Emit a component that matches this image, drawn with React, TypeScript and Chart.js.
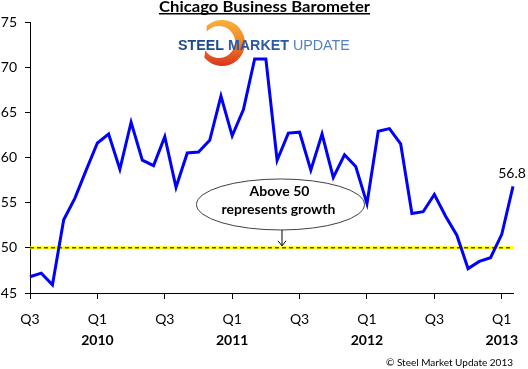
import { useEffect, useRef } from 'react';
import { Chart, registerables } from 'chart.js';
Chart.register(...registerables);

const months = [
  'Jul 2009', 'Aug 2009', 'Sep 2009', 'Oct 2009', 'Nov 2009', 'Dec 2009',
  'Jan 2010', 'Feb 2010', 'Mar 2010', 'Apr 2010', 'May 2010', 'Jun 2010',
  'Jul 2010', 'Aug 2010', 'Sep 2010', 'Oct 2010', 'Nov 2010', 'Dec 2010',
  'Jan 2011', 'Feb 2011', 'Mar 2011', 'Apr 2011', 'May 2011', 'Jun 2011',
  'Jul 2011', 'Aug 2011', 'Sep 2011', 'Oct 2011', 'Nov 2011', 'Dec 2011',
  'Jan 2012', 'Feb 2012', 'Mar 2012', 'Apr 2012', 'May 2012', 'Jun 2012',
  'Jul 2012', 'Aug 2012', 'Sep 2012', 'Oct 2012', 'Nov 2012', 'Dec 2012',
  'Jan 2013', 'Feb 2013',
];
const values = [
  46.8, 47.2, 45.9, 53.1, 55.5, 58.6,
  61.6, 62.6, 58.7, 63.9, 59.7, 59.1, 62.3, 56.7, 60.5, 60.6, 61.9, 66.8,
  62.4, 65.3, 70.9, 70.9, 59.7, 62.7, 62.8, 58.6, 62.6, 57.8, 60.3, 59.0,
  54.9, 62.9, 63.2, 61.5, 53.8, 54.0, 55.9, 53.5, 51.4, 47.7, 48.5, 48.9,
  51.5, 56.8,
];
const xTickIndex = [0, 6, 12, 18, 24, 30, 36, 42];
const quarterLabels = ['Q3', 'Q1', 'Q3', 'Q1', 'Q3', 'Q1', 'Q3', 'Q1'];
const yearLabels = ['2010', '2011', '2012', '2013'];
const yearTickIndex = [6, 18, 30, 42];
const yTicks = [45, 50, 55, 60, 65, 70, 75];
const titleText = 'Chicago Business Barometer';
const lastLabel = '56.8';
const noteLines = ['Above 50', 'represents growth'];
const threshold = 50;
const copyrightText = '\u00A9 Steel Market Update 2013';

const FONT = "Lato, 'Open Sans', sans-serif";

const decor = {
  id: 'decor',
  beforeDatasetsDraw(chart: any) {
    const { ctx, chartArea, scales } = chart;
    const y = scales.y.getPixelForValue(threshold);
    ctx.save();
    ctx.beginPath();
    ctx.moveTo(chartArea.left, y);
    ctx.lineTo(chartArea.right, y);
    ctx.strokeStyle = '#ffff00';
    ctx.lineWidth = 3;
    ctx.stroke();
    ctx.beginPath();
    ctx.setLineDash([4, 3]);
    ctx.moveTo(chartArea.left, y);
    ctx.lineTo(chartArea.right, y);
    ctx.strokeStyle = '#000';
    ctx.lineWidth = 1;
    ctx.stroke();
    ctx.restore();
  },
  afterDraw(chart: any) {
    const { ctx, scales } = chart;
    const xs = scales.x;
    const ys = scales.y;
    ctx.save();

    // Title (stretched to the reference width)
    ctx.font = `bold 14.5px ${FONT}`;
    ctx.fillStyle = '#000';
    ctx.textAlign = 'left';
    ctx.textBaseline = 'alphabetic';
    const tw = ctx.measureText(titleText).width;
    const targetW = 211;
    const tLeft = 159;
    ctx.save();
    ctx.translate(tLeft, 0);
    ctx.scale(targetW / tw, 1);
    ctx.fillText(titleText, 0, 11.5);
    ctx.restore();
    ctx.fillRect(tLeft, 13, targetW, 1.5);

    // Logo arc
    const grad = ctx.createLinearGradient(0, 19, 0, 67);
    grad.addColorStop(0, '#f9b23a');
    grad.addColorStop(0.45, '#f18a27');
    grad.addColorStop(1, '#d8311f');
    ctx.beginPath();
    ctx.arc(222, 43, 23, -2.3, 2.45, false);
    ctx.arc(219, 42, 16, 2.6, -2.45, true);
    ctx.closePath();
    ctx.fillStyle = grad;
    ctx.fill();

    // Logo text
    const parts = [
      { t: 'STEEL ', bold: true, c: '#1d4a8c' },
      { t: 'MARKET ', bold: true, c: '#2a5aa6' },
      { t: 'UPDATE', bold: false, c: '#5282c2' },
    ];
    const lf = "'Liberation Sans', Arial, sans-serif";
    let total = 0;
    for (const p of parts) {
      ctx.font = `${p.bold ? 'bold ' : ''}100px ${lf}`;
      total += ctx.measureText(p.t).width;
    }
    const size = (100 * 172) / total;
    let lx = 178;
    ctx.textAlign = 'left';
    for (const p of parts) {
      ctx.font = `${p.bold ? 'bold ' : ''}${size}px ${lf}`;
      ctx.fillStyle = p.c;
      ctx.fillText(p.t, lx, 49.5);
      lx += ctx.measureText(p.t).width;
    }

    // Years under Q1
    ctx.font = `bold 14px ${FONT}`;
    ctx.fillStyle = '#000';
    ctx.textAlign = 'center';
    ctx.textBaseline = 'middle';
    yearLabels.forEach((yl, i) => {
      ctx.fillText(yl, xs.getPixelForValue(yearTickIndex[i]), 340);
    });

    // Last value label
    const li = values.length - 1;
    ctx.font = `14px ${FONT}`;
    ctx.textBaseline = 'alphabetic';
    ctx.fillText(lastLabel, xs.getPixelForValue(li) - 1, ys.getPixelForValue(values[li]) - 8);

    // Annotation ellipse
    const ex = xs.getPixelForValue(22.3);
    const ey = ys.getPixelForValue(54.8);
    ctx.beginPath();
    ctx.ellipse(ex, ey, 84, 25.5, 0, 0, Math.PI * 2);
    ctx.fillStyle = '#fff';
    ctx.fill();
    ctx.strokeStyle = '#404040';
    ctx.lineWidth = 1;
    ctx.stroke();
    ctx.fillStyle = '#000';
    ctx.font = `bold 14px ${FONT}`;
    ctx.textAlign = 'center';
    ctx.fillText(noteLines[0], ex - 1, ey - 8);
    ctx.fillText(noteLines[1], ex - 2, ey + 10);

    // Arrow
    const ax = ex + 1;
    const ay0 = ey + 25.5;
    const ay1 = ys.getPixelForValue(threshold) - 2;
    ctx.beginPath();
    ctx.moveTo(ax + 0.5, ay0);
    ctx.lineTo(ax + 0.5, ay1);
    ctx.moveTo(ax - 3.5, ay1 - 5);
    ctx.lineTo(ax + 0.5, ay1);
    ctx.lineTo(ax + 4.5, ay1 - 5);
    ctx.strokeStyle = '#000';
    ctx.stroke();

    // Copyright
    ctx.font = `10px ${FONT}`;
    ctx.textAlign = 'right';
    ctx.textBaseline = 'alphabetic';
    ctx.fillText(copyrightText, 513, 366);

    ctx.restore();
  },
};

export default function App() {
  const ref = useRef<HTMLCanvasElement>(null);
  useEffect(() => {
    if (!ref.current) return;
    const chart = new Chart(ref.current, {
      type: 'line',
      data: {
        labels: months,
        datasets: [
          {
            data: values.map((v, i) => ({ x: i, y: v })),
            borderColor: '#0000ff',
            borderWidth: 3,
            pointRadius: 0,
            tension: 0,
            fill: false,
            clip: 6,
          } as any,
        ],
      },
      options: {
        animation: false,
        responsive: false,
        events: [],
        layout: { padding: { top: 22, right: 15, left: 0, bottom: 0 } },
        plugins: { legend: { display: false }, tooltip: { enabled: false }, title: { display: false } },
        scales: {
          x: {
            type: 'linear',
            min: 0,
            max: months.length - 1,
            afterBuildTicks(s: any) {
              s.ticks = xTickIndex.map((v) => ({ value: v }));
            },
            afterFit(s: any) {
              s.height = 76;
            },
            ticks: {
              autoSkip: false,
              maxRotation: 0,
              padding: 12,
              color: '#000',
              font: { family: FONT, size: 14 },
              callback: (v: any) => quarterLabels[xTickIndex.indexOf(Math.round(v))] ?? '',
            },
            grid: { drawOnChartArea: false, tickLength: 6, color: '#000' },
            border: { color: '#000', width: 1 },
          },
          y: {
            min: yTicks[0],
            max: yTicks[yTicks.length - 1],
            afterFit(s: any) {
              s.width = 30;
            },
            ticks: {
              stepSize: 5,
              padding: 8,
              color: '#000',
              font: { family: FONT, size: 14 },
            },
            grid: { drawOnChartArea: false, tickLength: 5, color: '#000' },
            border: { color: '#000', width: 1 },
          },
        },
      },
      plugins: [decor],
    });
    return () => chart.destroy();
  }, []);
  return (
    <div style={{ position: 'absolute', left: 0, top: 0, width: 528, height: 369, background: '#fff' }}>
      <canvas ref={ref} width={528} height={369} style={{ width: 528, height: 369 }} />
    </div>
  );
}
